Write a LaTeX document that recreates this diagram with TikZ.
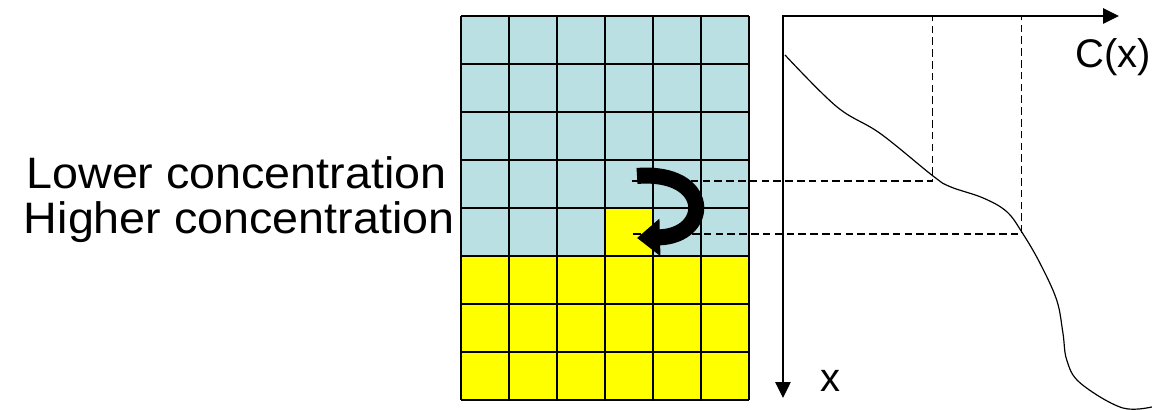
\documentclass[tikz,border=0pt]{standalone}
\usepackage{fontspec}
\setmainfont{Liberation Sans}
\usepackage{xcolor}
\usetikzlibrary{arrows.meta}
\definecolor{cellblue}{RGB}{187,224,227}
\definecolor{cellyellow}{RGB}{255,255,0}

\begin{document}
\begin{tikzpicture}[
    gridline/.style={line width=1.2pt},
    axisline/.style={line width=1pt, {Triangle[length=9.4pt,width=9pt]}-{Triangle[length=9.4pt,width=9pt]}},
    guide/.style={line width=0.7pt, dash pattern=on 4.5pt off 2.5pt},
    profile/.style={line width=0.7pt},
    flow/.style={line width=9.5pt, -{Triangle[length=13.6pt,width=21.3pt]}},
    side/.style={font=\fontsize{26.1}{30}\selectfont, inner sep=0pt, xscale=1.06, transform shape},
    axlabel/.style={font=\fontsize{23.7}{28}\selectfont, inner sep=0pt},
    x=1cm, y=1cm
]
\useasboundingbox (-9.604,0.333) rectangle (14.396,-8.208);

% --- Cells ---
\fill[cellblue] (0,0) rectangle (6,-5);
\fill[cellyellow] (0,-5) rectangle (6,-8);
\fill[cellyellow] (3,-4) rectangle (4,-5);
\draw[gridline] (0,-8) grid (6,0);

% --- Labels ---
\node[side, anchor=base east] (lower) at (-0.29,-3.598) {Lower concentration};
\node[side, anchor=base east] (higher) at (-0.125,-4.53) {Higher concentration};
\node[axlabel, anchor=base west] (clabel) at (12.79,-1.083) {C(x)};
\node[axlabel, anchor=base west] (xlabel) at (7.48,-7.83) {x};

% --- Axes ---
\coordinate (O) at (6.708,0);
\coordinate (xend) at (6.708,-7.958);
\coordinate (cend) at (13.708,0);
\draw[axisline] (xend) -- (O) -- (cend);

% --- Guides ---
\coordinate (lowin) at (3.556,-3.4375);
\coordinate (lowpt) at (9.826,-3.4375);
\coordinate (highin) at (3.583,-4.54);
\coordinate (highpt) at (11.68,-4.54);
\draw[guide] (lowin) -- (lowpt) -- (lowpt |- O);
\draw[guide] (highin) -- (highpt) -- (highpt |- O);

% --- Profile C(x) ---
\draw[profile] plot[smooth, tension=0.6] coordinates {(6.75,-0.8125) (7.827,-1.889) (8.729,-2.444) (9.83,-3.33) (10.19,-3.556) (10.875,-3.79) (11.37,-4.077) (11.70,-4.527) (12.06,-5.146) (12.41,-5.917) (12.54,-6.604) (12.62,-7.167) (12.90,-7.646) (13.79,-8.167) (14.5,-8.12)};

% --- Flow arrow ---
\coordinate (tail) at (3.667,-3.333);
\coordinate (tip) at (3.667,-4.625);
\draw[flow] (tail) .. controls (5.229,-3.208) and (5.229,-4.583) .. (tip);

\end{tikzpicture}
\end{document}
